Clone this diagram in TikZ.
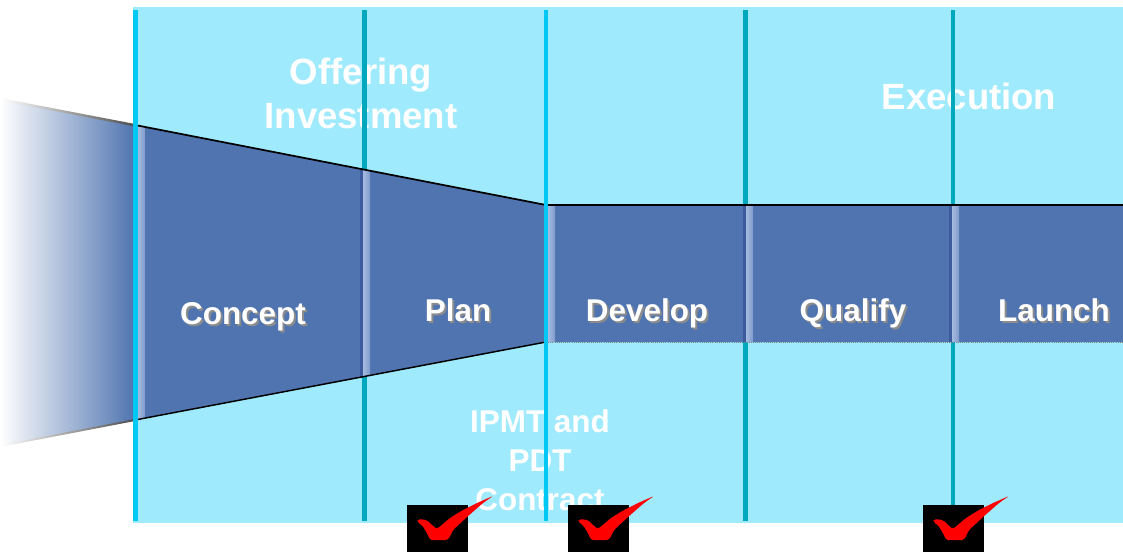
\documentclass[tikz,border=0pt]{standalone}
\usepackage{fontspec}
\setmainfont{Liberation Sans}
\usepackage{xcolor}
\usepackage{tikz}

\definecolor{bgcyan}{RGB}{160,234,253}
\definecolor{linecyan}{RGB}{0,200,245}
\definecolor{lineteal}{RGB}{0,168,190}
\definecolor{funnel}{RGB}{79,116,176}
\definecolor{funneldark}{RGB}{62,90,158}
\definecolor{funnellight}{RGB}{165,186,224}
\definecolor{shadowgray}{RGB}{140,140,140}

\begin{document}
\begin{tikzpicture}[
	x=0.75pt,
	y=-0.75pt,
	stage/.style={text=white,font=\bfseries\fontsize{23.6}{28}\selectfont,anchor=base,inner sep=0},
	stageshadow/.style={stage,text=shadowgray},
	title/.style={text=white,font=\bfseries\fontsize{27.4}{32.3}\selectfont,align=center,anchor=base,inner sep=0},
	contract/.style={text=white,font=\bfseries\fontsize{23.6}{28.9}\selectfont,align=center,anchor=base,inner sep=0}
]
	\useasboundingbox (0,0) rectangle (1123,557);
	% background
	\fill[bgcyan] (133,7) rectangle (1123,523);

	% headings
	\node[title] (offering) at (361,128) {Offering\\Investment};
	\node[title] (execution) at (969,109) {Execution};
	\node[contract] (ipmt) at (540,510) {IPMT and\\PDT\\Contract};

	% phase lines behind the funnel
	\foreach \x in {364.5,745.5,953}
		\draw[lineteal,line width=3.6pt] (\x,10) -- (\x,521);

	% left fade
	\shade[left color=white,right color=funnel] (0,99) -- (135,125) -- (135,420) -- (0,446) -- cycle;

	% funnel
	\fill[funnel] (135,125) -- (546,205) -- (1123,205) -- (1123,342) -- (546,342) -- (135,420) -- cycle;
	\begin{scope}
		\clip (135,125) -- (546,205) -- (1123,205) -- (1123,342) -- (546,342) -- (135,420) -- cycle;
		\foreach \x in {138,363,548,746,952} {
			\fill[funneldark] (\x-3,100) rectangle ++(3,350);
			\shade[left color=funnellight,right color=funnellight!55!funnel] (\x,100) rectangle ++(7,350);
		}
	\end{scope}
	\draw[black,line width=1.3pt] (135,125) -- (546,205) -- (1123,205);
	\draw[black,line width=1.1pt] (135,420) -- (546,342);
	\shade[left color=white,right color=black!70] (0,98) -- (135,124) -- (135,126.5) -- (0,100.5) -- cycle;
	\shade[left color=white,right color=black!70] (0,445) -- (135,419) -- (135,421) -- (0,447) -- cycle;
	\draw[black!50,line width=0.6pt,densely dotted] (546,342) -- (1123,342);

	% phase lines in front
	\foreach \x in {135.5,546}
		\draw[linecyan,line width=3.6pt] (\x,10) -- (\x,521);

	% stages
	\node[stageshadow] (concept-sh) at (245,326) {Concept};
	\node[stage] (concept) at (243,324) {Concept};
	\node[stageshadow] (plan-sh) at (460,323) {Plan};
	\node[stage] (plan) at (458,321) {Plan};
	\node[stageshadow] (develop-sh) at (649,323) {Develop};
	\node[stage] (develop) at (647,321) {Develop};
	\node[stageshadow] (qualify-sh) at (855,323) {Qualify};
	\node[stage] (qualify) at (853,321) {Qualify};
	\node[stageshadow] (launch-sh) at (1056,323) {Launch};
	\node[stage] (launch) at (1054,321) {Launch};

	% checks
	\foreach \x in {407,568,923} {
		\fill[black] (\x,505) rectangle ++(61,47);
		\fill[red,rounded corners=1.5] (\x+10,522) -- (\x+11,519) -- (\x+20,520) -- (\x+26,526)
			-- (\x+30,529) -- (\x+43,518) -- (\x+56,510) -- (\x+70,503) -- (\x+86,496)
			-- (\x+76,503) -- (\x+60,517) -- (\x+46,530) -- (\x+41,540) -- (\x+23,540)
			-- (\x+20,533) -- (\x+15,525) -- cycle;
	}
\end{tikzpicture}
\end{document}
